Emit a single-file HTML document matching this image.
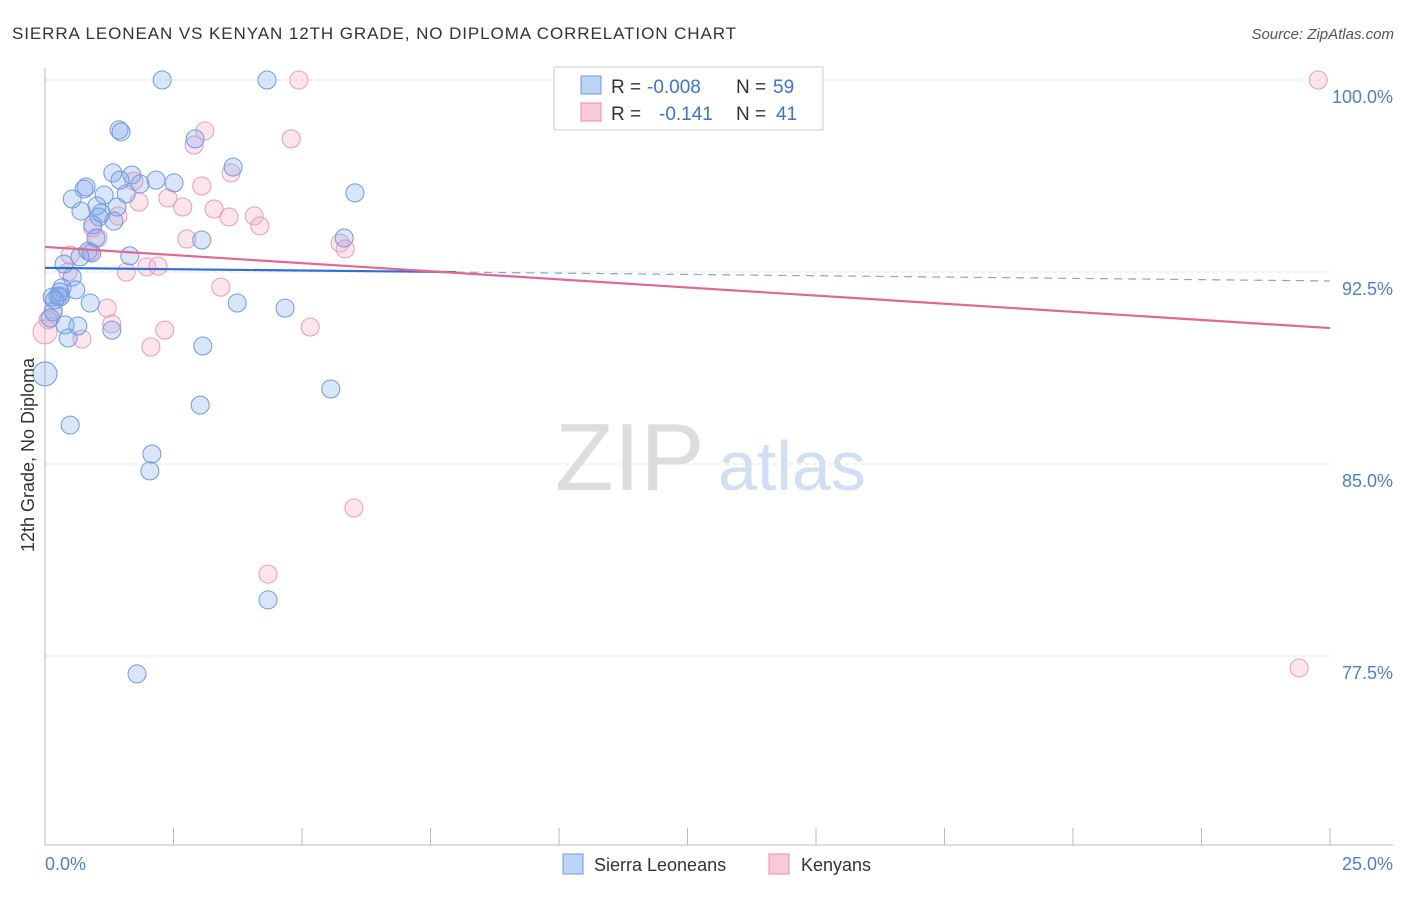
<!DOCTYPE html>
<html><head><meta charset="utf-8"><style>
body{margin:0;background:#fff;font-family:"Liberation Sans",sans-serif}
svg text{font-family:"Liberation Sans",sans-serif}
</style></head><body>
<svg id="chart" width="1406" height="892" xmlns="http://www.w3.org/2000/svg">
<text x="12" y="39" font-size="17" fill="#333" textLength="724">SIERRA LEONEAN VS KENYAN 12TH GRADE, NO DIPLOMA CORRELATION CHART</text>
<text x="1394" y="39" font-size="15" fill="#555" text-anchor="end" font-style="italic">Source: ZipAtlas.com</text>
<text x="555" y="490" font-size="96" fill="#ddd" font-family="Liberation Serif">ZIP</text>
<text x="718" y="490" font-size="70" fill="#d0dff3">atlas</text>
<g id="grid"></g>
<g id="axes"></g>
<g id="pts"></g>
<g id="trend"></g>
<text transform="translate(34,455) rotate(-90)" font-size="18" fill="#333" text-anchor="middle">12th Grade, No Diploma</text>
<text x="45" y="870" font-size="18" fill="#4a7fd6">0.0%</text>
<text x="1393" y="870" font-size="18" fill="#4a7fd6" text-anchor="end">25.0%</text>
<g>
<rect x="554" y="67" width="269" height="63" fill="#fff" stroke="#ccc"/>
<rect x="581" y="76" width="20" height="18" fill="#bcd4f5" stroke="#6c9ae0"/>
<rect x="581" y="103" width="20" height="18" fill="#f9c9d8" stroke="#e890ac"/>
<text x="611" y="93" font-size="19" fill="#333">R =</text>
<text x="647" y="93" font-size="19" fill="#3a73d6">-0.008</text>
<text x="736" y="93" font-size="19" fill="#333">N =</text>
<text x="773" y="93" font-size="19" fill="#3a73d6">59</text>
<text x="611" y="120" font-size="19" fill="#333">R =</text>
<text x="659" y="120" font-size="19" fill="#3a73d6">-0.141</text>
<text x="736" y="120" font-size="19" fill="#333">N =</text>
<text x="776" y="120" font-size="19" fill="#3a73d6">41</text>
</g>
<g>
<rect x="563" y="854" width="20" height="20" fill="#bcd4f5" stroke="#6c9ae0"/>
<text x="594" y="871" font-size="18" fill="#333">Sierra Leoneans</text>
<rect x="769" y="854" width="20" height="20" fill="#f9c9d8" stroke="#e890ac"/>
<text x="801" y="871" font-size="18" fill="#333">Kenyans</text>
</g>
</svg>
<script>
const yTicks=[100,92.5,85,77.5];
const yTickLabels=["100.0%","92.5%","85.0%","77.5%"];
const blueX=[2.28,4.32,1.44,1.48,2.92,3.66,1.32,1.69,1.46,2.16,2.51,1.85,0.80,0.76,6.03,0.53,1.15,1.58,1.01,1.40,0.70,1.09,1.05,1.34,0.93,3.05,5.82,0.84,0.91,0.68,1.65,0.37,0.53,0.60,0.33,0.25,0.14,0.29,0.88,3.74,4.67,0.16,0.10,0.39,0.64,1.30,0.45,3.07,0,5.56,3.02,0.49,2.08,2.04,4.34,1.79,0.99,0.29,0.19];
const blueY=[100,100,98.05,97.97,97.70,96.60,96.37,96.29,96.09,96.09,95.98,95.94,95.82,95.74,95.59,95.35,95.51,95.55,95.08,95.04,94.88,94.80,94.65,94.49,94.34,93.75,93.83,93.32,93.24,93.09,93.13,92.81,92.30,91.80,91.88,91.56,91.52,91.52,91.29,91.29,91.09,90.94,90.70,90.43,90.39,90.23,89.92,89.61,88.52,87.93,87.30,86.52,85.39,84.73,79.69,76.80,93.83,91.72,91.41];
const pinkX=[10.33,4.94,24.77,3.11,4.79,2.90,3.62,3.05,1.73,2.39,1.83,2.68,3.29,3.58,4.07,4.18,1.42,0.93,1.03,2.76,5.74,5.84,0.49,0.88,0.45,1.58,1.98,2.20,3.42,0.31,1.21,0.16,0.06,1.30,2.33,5.16,0.72,2.06,0,6.01,4.34,24.40];
const pinkY=[100,100,100,98.01,97.70,97.46,96.37,95.86,96.05,95.39,95.23,95.04,94.96,94.65,94.69,94.30,94.69,94.22,93.83,93.79,93.63,93.40,93.16,93.28,92.50,92.50,92.70,92.73,91.91,91.56,91.09,91.02,90.63,90.47,90.23,90.35,89.88,89.57,90.16,83.28,80.70,77.03];
const blueTrend=[92.66,92.15];
const pinkTrend=[93.48,90.31];
const NS="http://www.w3.org/2000/svg";
function sx(v){return 45+v/25*1285;}
function sy(v){return 80+(100-v)*25.6;}
function mk(tag,attrs,parent){const e=document.createElementNS(NS,tag);for(const k in attrs)e.setAttribute(k,attrs[k]);document.getElementById(parent).appendChild(e);return e;}
yTicks.forEach((t,i)=>{
  const l=mk('line',{x1:45,x2:1330,y1:sy(t),y2:sy(t),stroke:'#ddd','stroke-dasharray':'4,4'},'grid');
  
  
  const tx=mk('text',{x:1393,y:sy(t)+23,'font-size':18,fill:'#4a7fd6','text-anchor':'end'},'grid');
  tx.textContent=yTickLabels[i];
  
  
});
const ax=mk('line',{x1:45,x2:45,y1:68,y2:845,stroke:'#bbb'},'axes');


const bx=mk('line',{x1:45,x2:1393,y1:845,y2:845,stroke:'#bbb'},'axes');


for(let i=0;i<=10;i++){
  const t=mk('line',{x1:sx(i*2.5),x2:sx(i*2.5),y1:828,y2:845,stroke:'#bbb'},'axes');
  
  
}
function pts(X,Y,fill,stroke,name){
  X.forEach((x,i)=>{
    const r=(x===0)?12:9;
    const c=mk('circle',{cx:sx(x),cy:sy(Y[i]),r:r,fill:fill,stroke:stroke,'stroke-width':1},'pts');
    
    
  });
}
pts(pinkX,pinkY,'rgba(244,168,196,0.3)','#eb9bb6','kenyan-point');
pts(blueX,blueY,'rgba(130,170,235,0.3)','#6e9be2','sierra-leonean-point');
function ty(tr,x){return tr[0]+(tr[1]-tr[0])*x/25;}
const b1=mk('line',{x1:sx(0),y1:sy(ty(blueTrend,0)),x2:sx(8),y2:sy(ty(blueTrend,8)),stroke:'#2f6fd8','stroke-width':2.2},'trend');


const b2=mk('line',{x1:sx(8),y1:sy(ty(blueTrend,8)),x2:sx(25),y2:sy(ty(blueTrend,25)),stroke:'#7fa6e6','stroke-width':1.2,'stroke-dasharray':'8,6'},'trend');


const p1=mk('line',{x1:sx(0),y1:sy(pinkTrend[0]),x2:sx(25),y2:sy(pinkTrend[1]),stroke:'#e4678f','stroke-width':2.2},'trend');


</script>
</body></html>
